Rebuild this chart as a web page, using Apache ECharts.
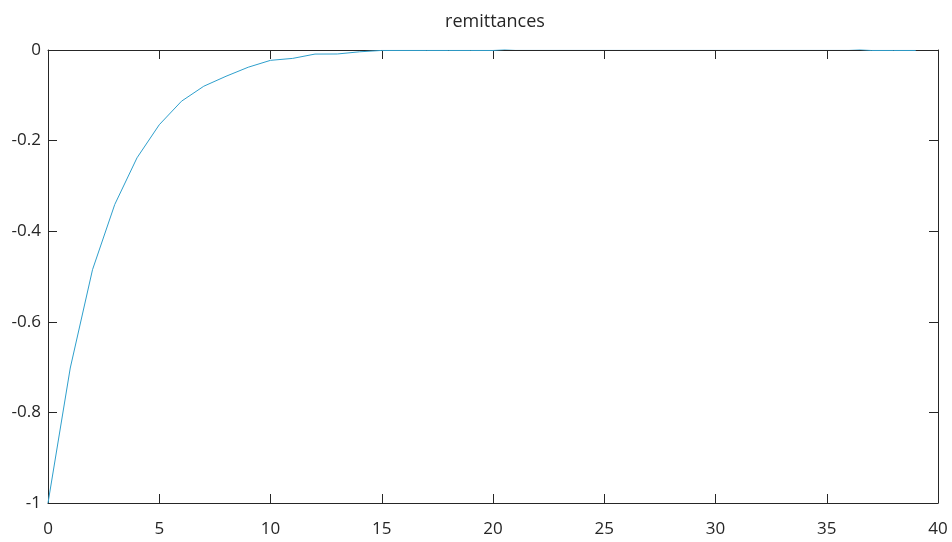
<!DOCTYPE html>
<html>
<head>
<meta charset="utf-8">
<script src="https://cdn.jsdelivr.net/npm/echarts@6/dist/echarts.min.js"></script>
<style>html,body{margin:0;padding:0;background:#fff;}#c{width:952px;height:542px;}</style>
</head>
<body>
<div id="c"></div>
<script>
const titleText = 'remittances';
const periods = [0,1,2,3,4,5,6,7,8,9,10,11,12,13,14,15,16,17,18,19,20,21,22,23,24,25,26,27,28,29,30,31,32,33,34,35,36,37,38,39];
const values = [-1.0,-0.702,-0.485,-0.341,-0.238,-0.165,-0.113,-0.080,-0.058,-0.038,-0.0228,-0.0185,-0.009,-0.0088,-0.004,-0.001,-0.001,-0.001,-0.001,-0.001,-0.001,0.003,0.003,0.003,0.003,0.003,0.003,0.003,0.003,0.003,0.003,0.003,0.003,0.003,0.003,0.003,0.003,-0.001,-0.001,-0.001];
const xTicks = [0,5,10,15,20,25,30,35,40];
const yTicks = [-1,-0.8,-0.6,-0.4,-0.2,0];

const chart = echarts.init(document.getElementById('c'), null, {renderer:'canvas'});
const axisCol = '#262626';
const font = 'Open Sans';
const common = {
  axisLine:{show:true,onZero:false,lineStyle:{color:axisCol,width:1}},
  axisTick:{show:true,inside:true,length:9,lineStyle:{color:axisCol,width:1}},
  splitLine:{show:false}
};
chart.setOption({
  animation:false,
  title:{text:titleText,left:490,textAlign:'center',top:8,textStyle:{fontFamily:font,fontSize:18,fontWeight:'normal',color:'#262626'}},
  grid:{left:48,right:14,top:50,bottom:39,containLabel:false},
  xAxis:[
    Object.assign({type:'value',min:xTicks[0],max:xTicks[xTicks.length-1],interval:5,position:'bottom',
      axisLabel:{fontFamily:font,fontSize:17,color:'#262626',margin:18}},common),
    Object.assign({type:'value',min:xTicks[0],max:xTicks[xTicks.length-1],interval:5,position:'top',
      axisLabel:{show:false}},common)
  ],
  yAxis:[
    Object.assign({type:'value',min:yTicks[0],max:yTicks[yTicks.length-1],interval:0.2,position:'left',
      axisLabel:{fontFamily:font,fontSize:17,color:'#262626',margin:7,padding:[6,0,0,0],formatter:v=>String(Math.round(v*10)/10)}},common),
    Object.assign({type:'value',min:yTicks[0],max:yTicks[yTicks.length-1],interval:0.2,position:'right',
      axisLabel:{show:false}},common)
  ],
  series:[{
    type:'line',
    data:periods.map((p,i)=>[p,values[i]]),
    showSymbol:false,
    clip:true,
    lineStyle:{color:'#2e9fcc',width:1},
    z:5
  }]
});
</script>
</body>
</html>
